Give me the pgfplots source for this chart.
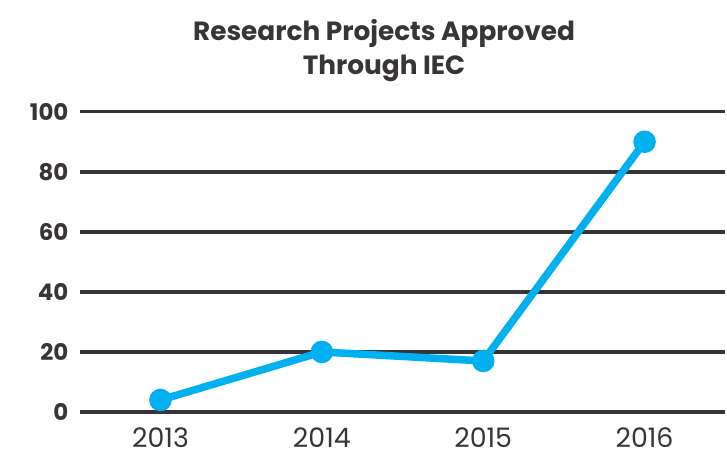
\documentclass[border=0pt]{standalone}
\usepackage{pgfplots}
\pgfplotsset{compat=1.18}
\usepackage{fontspec}
\setmainfont{Poppins}
\definecolor{linecol}{RGB}{0,176,240}
\definecolor{gridcol}{RGB}{56,52,54}
\definecolor{textcol}{RGB}{56,52,56}

\begin{document}
\begin{tikzpicture}[x=1bp,y=1bp]
    \begin{axis}[
        at={(0,0)}, anchor=south west,
        scale only axis,
        width=647bp, height=301bp,
        xmin=-0.5, xmax=3.5,
        ymin=0, ymax=100,
        xtick={0,1,2,3},
        xticklabels={2013,2014,2015,2016},
        ytick={0,20,40,60,80,100},
        ymajorgrids,
        major grid style={gridcol, line width=3.5bp},
        axis line style={draw=none},
        major tick length=0pt,
        tick label style={text=textcol},
        xticklabel style={font=\fontsize{27}{30}\selectfont, yshift=-12bp},
        yticklabel style={font=\fontsize{23}{26}\selectfont\bfseries, xshift=-8bp},
        /pgf/number format/assume math mode=true,
        clip=false,
    ]
        % approved projects per year
        \addplot[linecol, line width=7.5bp, mark=*, mark size=7.5bp,
                 mark options={fill=linecol, draw=none}] coordinates {
            (0,4) (1,20) (2,17) (3,90)
        };
    \end{axis}
    \node[align=center, text=textcol, font=\fontsize{26.5}{34}\selectfont\bfseries]
        at (305bp,362bp) {Research Projects Approved\\Through IEC};
    \path[use as bounding box] (-80bp,-44bp) rectangle (647bp,413bp);
\end{tikzpicture}
\end{document}
